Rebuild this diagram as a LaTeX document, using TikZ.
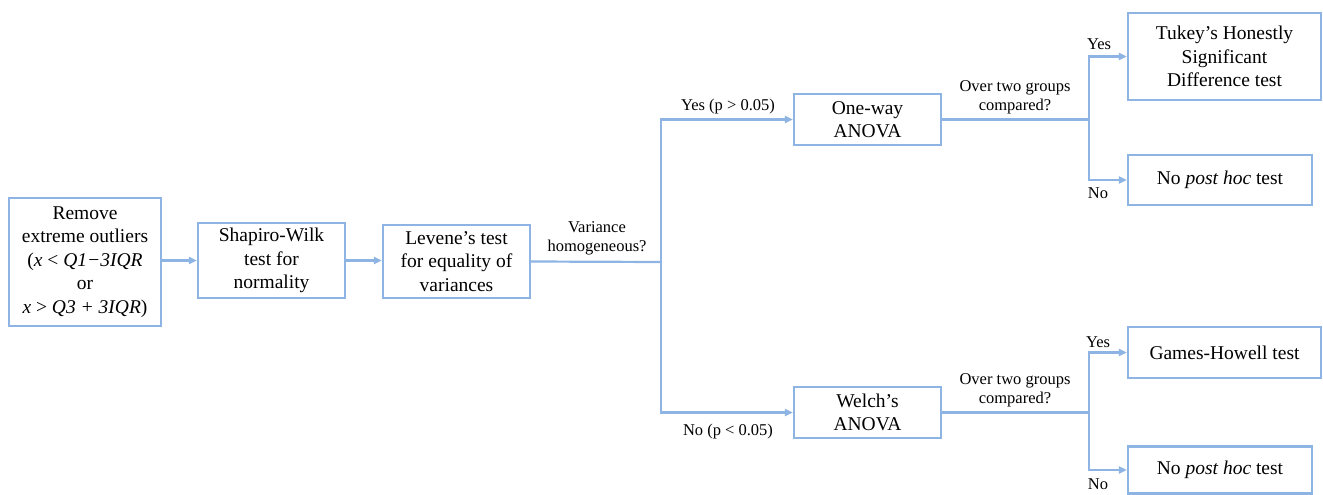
\documentclass[tikz,border=0pt]{standalone}
\usepackage{fontspec}
\setmainfont{Liberation Serif}
\usetikzlibrary{arrows.meta}
\definecolor{lb}{HTML}{8EB4E3}
\tikzset{
  box/.style={draw=lb, line width=2.2pt, fill=white, align=center, inner sep=2pt,
    font=\fontsize{19.5}{23.5}\selectfont},
  lbl/.style={align=center, inner sep=0pt, font=\fontsize{16.5}{19}\selectfont},
  conn/.style={draw=lb, line width=2.2pt},
  arr/.style={conn, -{Triangle[length=8pt,width=7pt]}},
}
\begin{document}
\begin{tikzpicture}[x=1pt,y=-1pt]
\useasboundingbox (0,0) rectangle (1323,495);
\node[box, minimum width=152pt, minimum height=128pt] (rem) at (85,262)
  {Remove\\extreme outliers\\(\textit{x} < \textit{Q1−3IQR}\\or\\\textit{x} > \textit{Q3 + 3IQR})};
\node[box, minimum width=147pt, minimum height=75pt] (shap) at (271.5,260.5)
  {Shapiro-Wilk\\test for\\normality};
\node[box, minimum width=147pt, minimum height=73pt] (lev) at (456.5,261.5)
  {Levene’s test\\for equality of\\variances};
\node[box, minimum width=147pt, minimum height=51pt] (ow) at (867.5,119.5)
  {One-way\\ANOVA};
\node[box, minimum width=147pt, minimum height=51pt] (wel) at (867.5,412.5)
  {Welch’s\\ANOVA};
\node[box, minimum width=193pt, minimum height=87pt] (tuk) at (1224.5,56.5)
  {Tukey’s Honestly\\Significant\\Difference test};
\node[box, minimum width=184pt, minimum height=50pt] (nph1) at (1220,180)
  {No \textit{post hoc} test};
\node[box, minimum width=193pt, minimum height=51pt] (gh) at (1224.5,352.5)
  {Games-Howell test};
\node[box, minimum width=184pt, minimum height=47pt] (nph2) at (1220,470)
  {No \textit{post hoc} test};

\coordinate (split) at (661,262);
\coordinate (b1) at (1089,119.5);
\coordinate (b2) at (1089,412.5);

\draw[arr] (rem.east |- shap.west) -- (shap.west);
\draw[arr] (shap.east) -- (lev.west |- shap.east);
\draw[conn] (lev.east) -- (split);
\draw[arr] (split) |- (ow.west);
\draw[arr] (split) |- (wel.west);
\draw[conn] (ow.east) -- (b1);
\draw[arr] (b1) |- (tuk.west);
\draw[arr] (b1) |- (nph1.west);
\draw[conn] (wel.east) -- (b2);
\draw[arr] (b2) |- (gh.west);
\draw[arr] (b2) |- (nph2.west);

\node[lbl] (l1) at (597,238) {Variance\\homogeneous?};
\node[lbl] (l2) at (728,107) {Yes (p > 0.05)};
\node[lbl] (l3) at (728,432) {No (p < 0.05)};
\node[lbl] (l4) at (1015,97) {Over two groups\\compared?};
\node[lbl] (l5) at (1015,390) {Over two groups\\compared?};
\node[lbl] (l6) at (1099,44) {Yes};
\node[lbl] (l7) at (1098,193) {No};
\node[lbl] (l8) at (1098,342) {Yes};
\node[lbl] (l9) at (1098,484) {No};
\end{tikzpicture}
\end{document}
